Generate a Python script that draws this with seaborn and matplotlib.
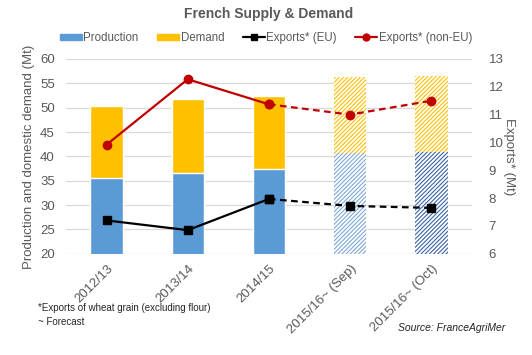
import numpy as np
import pandas as pd
import seaborn as sns
import matplotlib.pyplot as plt
from matplotlib.patches import Patch
from matplotlib.lines import Line2D

# values
seasons = ['2012/13', '2013/14', '2014/15', '2015/16~ (Sep)', '2015/16~ (Oct)']
production = [35.6, 36.6, 37.5, 40.6, 40.9]
demand = [14.7, 15.2, 14.9, 15.7, 15.6]
exports_eu = [7.2, 6.85, 7.97, 7.72, 7.65]
exports_non_eu = [9.92, 12.27, 11.37, 11.0, 11.5]

blue = '#5B9BD5'
yellow = '#FFC000'
red = '#C00000'
grey = '#595959'

sns.set_theme(style='white')
plt.rcParams['font.family'] = ['Liberation Sans', 'DejaVu Sans']
plt.rcParams['hatch.linewidth'] = 0.8

df = pd.DataFrame({'season': seasons, 'production': production, 'demand': demand,
                   'eu': exports_eu, 'non_eu': exports_non_eu})
df['total'] = df['production'] + df['demand']

fig = plt.figure(figsize=(5.32, 3.55), dpi=100)
ax = fig.add_axes([0.124, 0.285, 0.763, 0.549])

sns.barplot(data=df, x='season', y='total', color=yellow, saturation=1, width=0.4, ax=ax)
sns.barplot(data=df, x='season', y='production', color=blue, saturation=1, width=0.4, ax=ax)

# forecast bars are hatched
n = len(seasons)
hatch_blue = {3: '#7FA8D6', 4: '#3A64A8'}
for i in (3, 4):
    yb = ax.patches[i]
    yb.set_facecolor('white')
    yb.set_edgecolor(yellow)
    yb.set_hatch('////////')
    yb.set_linewidth(0)
    bb = ax.patches[n + i]
    bb.set_facecolor('white')
    bb.set_edgecolor(hatch_blue[i])
    bb.set_hatch('////////')
    bb.set_linewidth(0)

ax.set_ylim(20, 60)
ax.set_yticks(np.arange(20, 61, 5))
ax.set_xlim(-0.5, n - 0.5)
ax.yaxis.grid(True, color='#D9D9D9', linewidth=0.9)
ax.set_axisbelow(True)
for s in ax.spines.values():
    s.set_visible(False)
ax.tick_params(axis='both', length=0, colors=grey, labelsize=9.5)
ax.tick_params(axis='y', pad=8)
ax.set_xlabel('')
ax.set_ylabel('Production and domestic demand (Mt)', color=grey, fontsize=9.5, labelpad=4)
ax.set_xticks(range(n))
ax.set_xticklabels(seasons, rotation=45, ha='right', rotation_mode='anchor')
ax.tick_params(axis='x', pad=6)

ax2 = ax.twinx()
x = np.arange(n)
ax2.plot(x[:3], df['eu'][:3], color='black', lw=1.6, marker='s', ms=6)
ax2.plot(x[2:], df['eu'][2:], color='black', lw=1.6, ls=(0, (3, 2)), marker='s', ms=6)
ax2.plot(x[:3], df['non_eu'][:3], color=red, lw=1.6, marker='o', ms=6)
ax2.plot(x[2:], df['non_eu'][2:], color=red, lw=1.6, ls=(0, (3, 2)), marker='o', ms=6)
ax2.set_ylim(6, 13)
ax2.set_yticks(range(6, 14))
for s in ax2.spines.values():
    s.set_visible(False)
ax2.tick_params(axis='y', length=0, colors=grey, labelsize=9.5, pad=12)
ax2.set_ylabel('Exports* (Mt)', color=grey, fontsize=9.5, rotation=-90, labelpad=8)

fig.suptitle('French Supply & Demand', x=0.505, y=0.98, fontsize=10,
             fontweight='bold', color=grey)

handles = [Patch(color=blue), Patch(color=yellow),
           Line2D([], [], color='black', lw=1.6, marker='s', ms=5),
           Line2D([], [], color=red, lw=1.6, marker='o', ms=5)]
labels = ['Production', 'Demand', 'Exports* (EU)', 'Exports* (non-EU)']
fig.legend(handles, labels, loc='center', bbox_to_anchor=(0.5, 0.893), ncol=4,
           frameon=False, fontsize=8.3, handlelength=1.9, handleheight=0.45,
           handletextpad=0.15, columnspacing=1.6, labelcolor=grey)

fig.text(0.071, 0.125, '*Exports of wheat grain (excluding flour)', fontsize=7)
fig.text(0.071, 0.085, '~ Forecast', fontsize=7)
fig.text(0.95, 0.068, 'Source: FranceAgriMer', fontsize=7.5, style='italic', ha='right')

fig.savefig('out.png', dpi=100)
